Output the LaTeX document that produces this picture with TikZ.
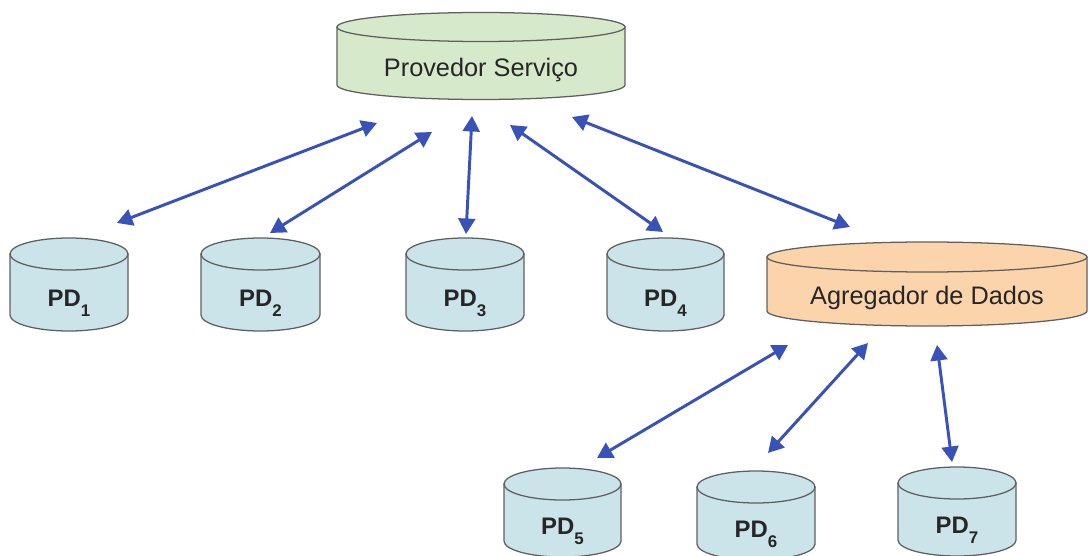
\documentclass[tikz,border=0pt]{standalone}
\usepackage{fontspec}
\setmainfont{Liberation Sans}
\usetikzlibrary{arrows.meta}

\definecolor{provfill}{RGB}{214,233,202}
\definecolor{pdfill}{RGB}{203,228,233}
\definecolor{aggfill}{RGB}{251,212,172}
\definecolor{linkblue}{RGB}{57,82,184}
\definecolor{rimgray}{RGB}{95,95,95}

% drum: name, cx, half width, top y, bottom y, ry, fill, text
\newcommand{\drum}[8]{%
  \draw[drumline,fill=#7] (#2-#3,-#4) -- (#2-#3,-#5)
    arc[start angle=180,end angle=360,x radius=#3,y radius=#6] -- (#2+#3,-#4) -- cycle;
  \draw[drumline,fill=#7] (#2,-#4) ellipse[x radius=#3,y radius=#6];
  \node[drumtext] (#1) at (#2,{-(#4+#5+2*#6)/2-6}) {#8};
}
\newcommand{\pdl}[1]{\bfseries\fontsize{17}{20}\selectfont PD\raisebox{-7pt}{\fontsize{12}{12}\selectfont #1}}

\begin{document}
\begin{tikzpicture}[x=0.025cm,y=0.025cm,
    drumline/.style={draw=rimgray,line width=0.9pt},
    drumtext/.style={anchor=base,inner sep=0pt,text=black!85,font=\fontsize{18}{20}\selectfont},
    link/.style={{Triangle[length=11pt,width=12pt]}-{Triangle[length=11pt,width=12pt]},line width=2.1pt,draw=linkblue}]
  \useasboundingbox (0,0) rectangle (1089,-556);

  \drum{prov}{481}{144}{27}{85}{14.5}{provfill}{Provedor Serviço}
  \drum{pd1}{69}{59}{254}{315}{16}{pdfill}{\pdl{1}}
  \drum{pd2}{260.5}{59.5}{254}{315}{16}{pdfill}{\pdl{2}}
  \drum{pd3}{465}{59}{254}{315}{16}{pdfill}{\pdl{3}}
  \drum{pd4}{665.5}{58.5}{254}{315}{16}{pdfill}{\pdl{4}}
  \drum{agg}{927}{160}{257}{311}{15}{aggfill}{Agregador de Dados}
  \drum{pd5}{562.5}{58.5}{484}{541}{16}{pdfill}{\pdl{5}}
  \drum{pd6}{756}{59}{487}{544}{16}{pdfill}{\pdl{6}}
  \drum{pd7}{957}{59}{483}{540}{16}{pdfill}{\pdl{7}}

  % arrow ends
  \coordinate (up1) at (377,-123);  \coordinate (dn1) at (117,-223);
  \coordinate (up2) at (432,-132);  \coordinate (dn2) at (270,-233);
  \coordinate (up3) at (472,-116);  \coordinate (dn3) at (466,-234);
  \coordinate (up4) at (510,-125);  \coordinate (dn4) at (663,-232);
  \coordinate (up5) at (572,-117);  \coordinate (dn5) at (850,-227);
  \coordinate (up6) at (788,-345);  \coordinate (dn6) at (597,-458);
  \coordinate (up7) at (868,-343);  \coordinate (dn7) at (768,-453);
  \coordinate (up8) at (937,-345);  \coordinate (dn8) at (952,-462);

  \foreach \i in {1,...,8}
    \draw[link] (up\i) -- (dn\i);
\end{tikzpicture}
\end{document}
